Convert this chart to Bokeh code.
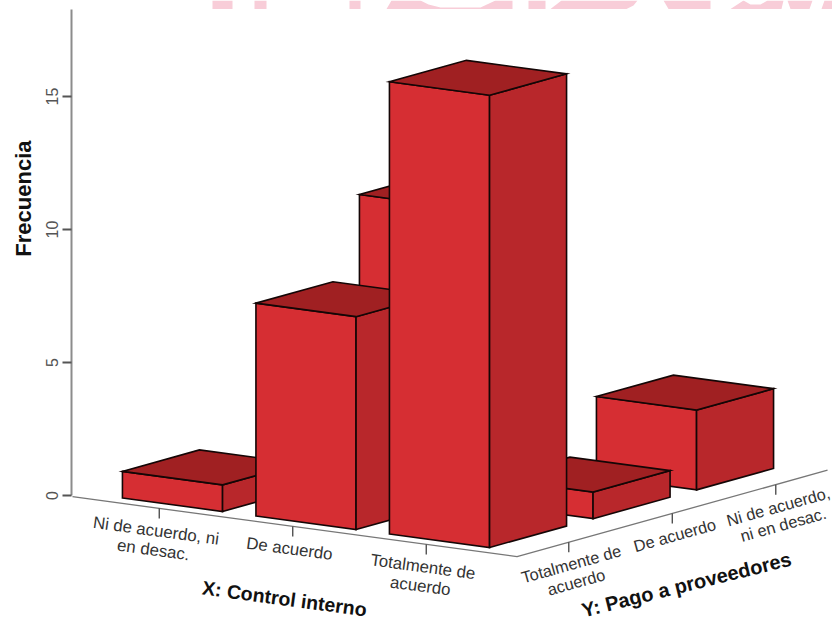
import math

from bokeh.core.properties import value
from bokeh.embed import file_html
from bokeh.models import ColumnDataSource, FixedTicker, Title
from bokeh.plotting import figure
from bokeh.resources import INLINE

# Categories on the two floor axes
control_interno = ["Ni de acuerdo, ni\nen desac.", "De acuerdo", "Totalmente de\nacuerdo"]
pago_proveedores = ["Totalmente de\nacuerdo", "De acuerdo", "Ni de acuerdo,\nni en desac."]

# One entry per bar: category index on each floor axis, and its frequency
bar_x = [2, 1, 0, 2, 1, 2]
bar_y = [2, 1, 0, 1, 0, 0]
frecuencia = [3, 11, 1, 1, 8, 17]

freq_ticks = [0, 5, 10, 15]

# Oblique projection of the floor, in screen pixels per category step
PX_PER_FREQ = 26.6
BASE_Y_PX = 495.0
ORIGIN = (210.5, 493.5)
STEP_U = (133.5, 18.0)
STEP_V = (103.5, -28.8)
U_MIN, U_MAX = -0.65, 2.68
V_MIN, V_MAX = -0.5, 2.5
HALF_U, HALF_V = 0.375, 0.372
FRAME_LEFT = 71

FRONT, SIDE, TOP = "#d62e33", "#b8272b", "#a02022"
EDGE = "#140606"
TEXT = "#333333"
FONT = value("Liberation Sans")


def to_freq(px):
    return (BASE_Y_PX - px) / PX_PER_FREQ


def project(u, v, h=0.0):
    sx = ORIGIN[0] + u * STEP_U[0] + v * STEP_V[0]
    sy = ORIGIN[1] + u * STEP_U[1] + v * STEP_V[1]
    return sx, to_freq(sy) + h


def face(*corners):
    pts = [project(*c) for c in corners]
    return [p[0] for p in pts], [p[1] for p in pts]


p = figure(
    width=832, height=620, output_backend="svg", toolbar_location=None,
    x_range=(FRAME_LEFT, 832), y_range=(to_freq(620), to_freq(0)),
    x_axis_location=None, min_border_left=FRAME_LEFT, min_border_right=0,
    min_border_top=0, min_border_bottom=0, outline_line_color=None,
)
p.grid.visible = False
p.background_fill_color = "white"

# Frequency axis
ax = p.yaxis[0]
ax.ticker = FixedTicker(ticks=freq_ticks)
ax.bounds = (0, to_freq(9))
ax.axis_line_color = "#8c8c8c"
ax.axis_line_width = 2
ax.major_tick_line_color = "#555555"
ax.major_tick_line_width = 2
ax.major_tick_out = 9
ax.major_tick_in = 0
ax.minor_tick_line_color = None
ax.major_label_orientation = "parallel"
ax.major_label_standoff = 5
ax.major_label_text_font = "Liberation Sans"
ax.major_label_text_font_size = "16px"
ax.major_label_text_color = "#555555"

# Vertical title, in the panel to the left of the axis
p.add_layout(Title(
    text="Frecuencia", align="right", offset=140, standoff=13,
    text_font="Liberation Sans", text_font_style="bold", text_font_size="22px",
    text_color="#111111",
), "left")

# Pale banner clipped by the top edge of the page
banner = [
    ([212, 232, 232, 212], [0, 0, 8.5, 8.5]),
    ([254, 266, 266, 254], [0, 0, 8.5, 8.5]),
    ([349, 360, 360, 349], [0, 0, 8.5, 8.5]),
    ([391, 420, 428, 440, 480, 495, 512, 512, 386], [0, 0, 4, 7, 7, 0, 0, 8.5, 8.5]),
    ([528, 545, 545, 528], [0, 0, 8.5, 8.5]),
    ([561, 637, 633, 626, 550], [0, 0, 5, 8.5, 8.5]),
    ([663, 710, 710, 668], [0, 0, 8.5, 8.5]),
    ([730, 743, 750, 760, 767, 783, 781, 732], [8.5, 0, 4, 4, 0, 0, 8.5, 8.5]),
    ([787, 812, 809, 790], [0, 0, 8.5, 8.5]),
    ([824, 832, 832, 821], [0, 0, 8.5, 8.5]),
]
p.patches(
    xs=[b[0] for b in banner],
    ys=[[to_freq(py) for py in b[1]] for b in banner],
    fill_color="#f8cdd8", line_color=None,
)

# Floor edges and category ticks
floor_x, floor_y = face((U_MIN, V_MIN), (U_MAX, V_MIN), (U_MAX, V_MAX))
p.line(floor_x, floor_y, line_color="#777777", line_width=1.3)

tick_px = 10 / PX_PER_FREQ
u_pos = list(range(len(control_interno)))
v_pos = list(range(len(pago_proveedores)))
tick_pts = [project(u, V_MIN) for u in u_pos] + [project(U_MAX, v) for v in v_pos]
p.segment(
    x0=[t[0] for t in tick_pts], y0=[t[1] for t in tick_pts],
    x1=[t[0] for t in tick_pts], y1=[t[1] - tick_px for t in tick_pts],
    line_color="#444444", line_width=1.3,
)

# Bars, painted from the far corner of the floor towards the viewer
faces = {"xs": [], "ys": [], "color": []}
order = sorted(range(len(frecuencia)), key=lambda k: bar_x[k] - bar_y[k])
for k in order:
    u, v, h = bar_x[k], bar_y[k], frecuencia[k]
    u0, u1 = u - HALF_U, u + HALF_U
    v0, v1 = v - HALF_V, v + HALF_V
    for corners, color in (
        (((u0, v0, 0), (u1, v0, 0), (u1, v0, h), (u0, v0, h)), FRONT),
        (((u1, v0, 0), (u1, v1, 0), (u1, v1, h), (u1, v0, h)), SIDE),
        (((u0, v0, h), (u1, v0, h), (u1, v1, h), (u0, v1, h)), TOP),
    ):
        fx, fy = face(*corners)
        faces["xs"].append(fx)
        faces["ys"].append(fy)
        faces["color"].append(color)
p.patches(
    "xs", "ys", source=ColumnDataSource(faces), fill_color="color",
    line_color=EDGE, line_width=1.6, line_join="miter",
)

# Category labels follow the slope of their floor edge
angle_x = -math.atan2(STEP_U[1], STEP_U[0])
angle_y = -math.atan2(STEP_V[1], STEP_V[0])
label_gap = 13 / PX_PER_FREQ

x_anchor = [project(u, V_MIN) for u in u_pos]
p.text(
    x=[a[0] - 2 for a in x_anchor], y=[a[1] - label_gap for a in x_anchor],
    text=control_interno, angle=angle_x, text_align="center", text_baseline="top",
    text_font=FONT, text_font_size="16.8px", text_color=TEXT, text_line_height=1.02,
)
y_anchor = [project(U_MAX, v) for v in v_pos]
p.text(
    x=[a[0] for a in y_anchor], y=[a[1] - label_gap for a in y_anchor],
    text=pago_proveedores, angle=angle_y, text_align="center", text_baseline="top",
    text_font=FONT, text_font_size="16.4px", text_color=TEXT, text_line_height=1.04,
)

# Floor axis titles
p.text(
    x=[284], y=[to_freq(598)], text=["X: Control interno"], angle=angle_x,
    text_align="center", text_baseline="middle", text_font=FONT,
    text_font_style="bold", text_font_size="19.5px", text_color="#111111",
)
p.text(
    x=[686], y=[to_freq(584)], text=["Y: Pago a proveedores"], angle=0.245,
    text_align="center", text_baseline="middle", text_font=FONT,
    text_font_style="bold", text_font_size="20px", text_color="#111111",
)

open("out.html", "w").write(file_html(p, INLINE))
